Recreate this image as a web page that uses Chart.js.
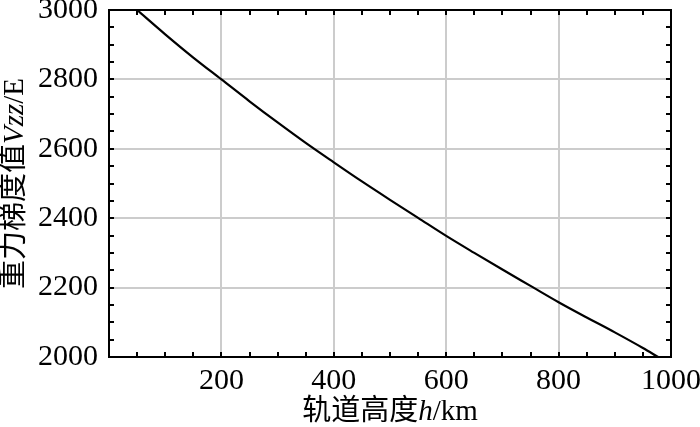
<!DOCTYPE html>
<html><head><meta charset="utf-8">
<script src="https://cdn.jsdelivr.net/npm/chart.js@4/dist/chart.umd.min.js"></script>
<style>html,body{margin:0;padding:0;background:#fff}#wrap{width:700px;height:427px;position:relative}</style>
</head><body><div id="wrap"><canvas id="c"></canvas></div>
<script>
// Orbit height h (km) and gravity gradient Vzz (E)
const heights = [50,100,150,200,250,300,350,400,450,500,550,600,650,700,750,800,850,900,950,977];
const vzz     = [3000,2930,2863,2800,2737,2676,2617,2561,2506,2453,2401,2349,2300,2252,2205,2158,2114,2071,2026,2000];
const xTickLabels = [200,400,600,800,1000];
const yTickLabels = [2000,2200,2400,2600,2800,3000];
const xTitleParts = [['轨道高度','normal'],['h','italic'],['/km','normal']];
const yTitleParts = [['重力梯度值','normal'],['Vzz','italic'],['/E','normal']];

const FAM = "'Liberation Serif','Times New Roman','Noto Sans CJK SC',serif";
const TICK_SIZE = 30, TITLE_SIZE = 29;

function drawParts(ctx, parts, cx, cy){
  let total = 0;
  const w = parts.map(p => { ctx.font = p[1] + ' ' + TITLE_SIZE + 'px ' + FAM; const m = ctx.measureText(p[0]).width; total += m; return m; });
  let x = cx - total/2;
  ctx.textBaseline = 'middle'; ctx.textAlign = 'left'; ctx.fillStyle = '#000';
  parts.forEach((p,i) => { ctx.font = p[1] + ' ' + TITLE_SIZE + 'px ' + FAM; ctx.fillText(p[0], x, cy); x += w[i]; });
}

const framePlugin = {
  id: 'frame',
  afterDraw(chart){
    const ctx = chart.ctx, a = chart.chartArea;
    const xs = chart.scales.x, ys = chart.scales.y;
    ctx.save();
    ctx.strokeStyle = '#000'; ctx.lineWidth = 2;
    const L = 5;
    ctx.beginPath();
    xs.ticks.forEach(t => {
      const p = Math.round(xs.getPixelForValue(t.value));
      ctx.moveTo(p, a.bottom); ctx.lineTo(p, a.bottom - L);
      ctx.moveTo(p, a.top); ctx.lineTo(p, a.top + L);
    });
    ys.ticks.forEach(t => {
      const p = Math.round(ys.getPixelForValue(t.value));
      ctx.moveTo(a.left, p); ctx.lineTo(a.left + L, p);
      ctx.moveTo(a.right, p); ctx.lineTo(a.right - L, p);
    });
    ctx.stroke();
    ctx.strokeRect(a.left, a.top, a.right - a.left, a.bottom - a.top);
    // axis titles
    drawParts(ctx, xTitleParts, (a.left + a.right)/2, 412);
    ctx.translate(15, (a.top + a.bottom)/2);
    ctx.rotate(-Math.PI/2);
    drawParts(ctx, yTitleParts, 0, 0);
    ctx.restore();
  }
};

new Chart(document.getElementById('c'), {
  type: 'line',
  data: {
    labels: heights,
    datasets: [{
      data: heights.map((h,i) => ({x: h, y: vzz[i]})),
      borderColor: '#000', borderWidth: 2.2, pointRadius: 0, cubicInterpolationMode: 'monotone', fill: false
    }]
  },
  options: {
    responsive: true, maintainAspectRatio: false, animation: false,
    layout: { padding: { top: 10, right: 29, left: 0, bottom: 0 } },
    plugins: { legend: { display: false }, tooltip: { enabled: false } },
    scales: {
      x: {
        type: 'linear', min: 0, max: 1000,
        afterFit(s){ s.height = 70; s.paddingLeft = 0; s.paddingRight = 0; },
        border: { display: false },
        grid: {
          drawTicks: false, lineWidth: 2,
          color: c => (c.tick && c.tick.value % 200 === 0 && c.tick.value > 0 && c.tick.value < 1000) ? '#cccccc' : 'rgba(0,0,0,0)'
        },
        ticks: {
          stepSize: 50, autoSkip: false, maxRotation: 0, padding: 6, color: '#000',
          font: { family: FAM, size: TICK_SIZE },
          callback: v => xTickLabels.includes(v) ? String(v) : ''
        }
      },
      y: {
        type: 'linear', min: 2000, max: 3000,
        afterFit(s){ s.width = 109; s.paddingTop = 0; s.paddingBottom = 0; },
        border: { display: false },
        grid: {
          drawTicks: false, lineWidth: 2,
          color: c => (c.tick && c.tick.value % 200 === 0 && c.tick.value > 2000 && c.tick.value < 3000) ? '#cccccc' : 'rgba(0,0,0,0)'
        },
        ticks: {
          stepSize: 50, autoSkip: false, padding: 11, color: '#000',
          font: { family: FAM, size: TICK_SIZE },
          callback: v => yTickLabels.includes(v) ? String(v) : ''
        }
      }
    }
  },
  plugins: [framePlugin]
});
</script></body></html>
